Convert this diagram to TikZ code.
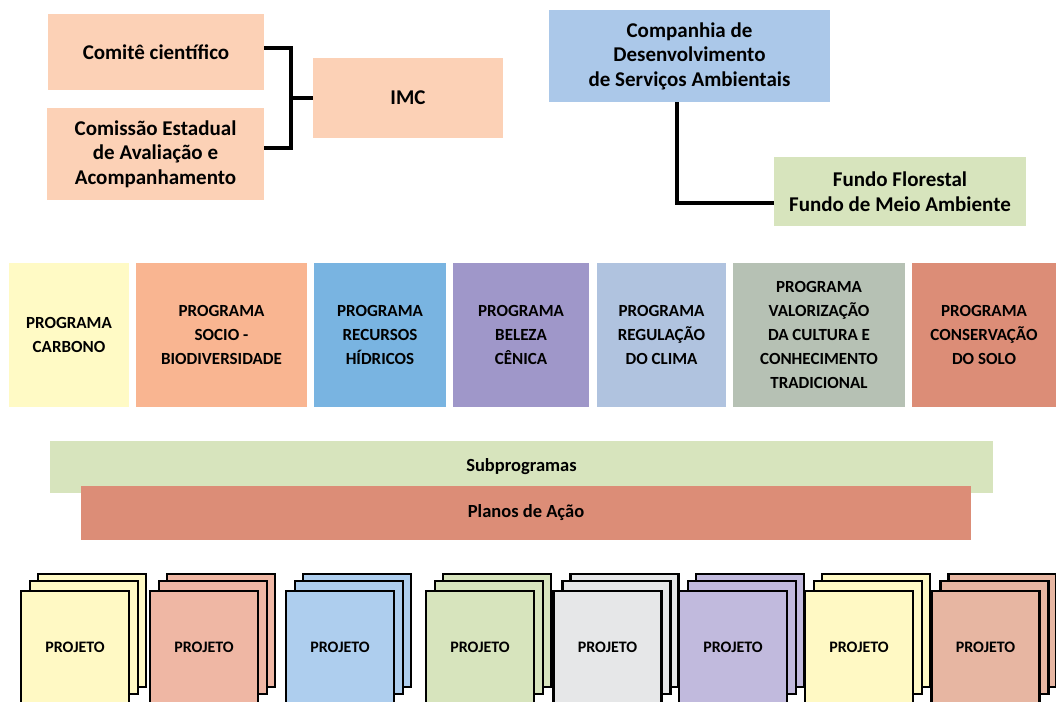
\documentclass[tikz,border=0pt]{standalone}
\usepackage{fontspec}
\setmainfont{Carlito}
\usepackage{xcolor}
\usepackage{tikz}
\definecolor{peach}{HTML}{FCD1B6}
\definecolor{cdsablue}{HTML}{ABC8E9}
\definecolor{fundogreen}{HTML}{D7E4BD}
\definecolor{progyellow}{HTML}{FFFAC5}
\definecolor{progorange}{HTML}{F9B591}
\definecolor{progblue}{HTML}{79B4E1}
\definecolor{progviolet}{HTML}{9F97C9}
\definecolor{progsky}{HTML}{B0C3DF}
\definecolor{progsage}{HTML}{B6C1B4}
\definecolor{progred}{HTML}{DC8D77}
\definecolor{projyellow}{HTML}{FFF9C4}
\definecolor{projsalmon}{HTML}{EFB7A4}
\definecolor{projblue}{HTML}{AECEEE}
\definecolor{projgreen}{HTML}{D7E4BD}
\definecolor{projgray}{HTML}{E6E7E8}
\definecolor{projlilac}{HTML}{C1BADD}
\definecolor{projrose}{HTML}{E7B6A2}
\newcommand{\topfont}{\fontsize{21}{24.5}\selectfont\bfseries}
\newcommand{\progfont}{\fontsize{17}{24}\selectfont\bfseries}
\newcommand{\barfont}{\fontsize{18.5}{22}\selectfont\bfseries}
\tikzset{
  box/.style={inner sep=0pt,align=center},
  link/.style={draw=black,line width=4.8pt},
  sheet/.style={draw=black,line width=2.6pt,fill=#1,minimum width=108pt,minimum height=113pt,inner sep=0pt}
}

\begin{document}
\begin{tikzpicture}[x=1pt,y=-1pt]
\useasboundingbox (0,0) rectangle (1056,701);
\node[box,fill=peach,minimum width=216pt,minimum height=76pt,font=\topfont] (comite) at (156,52) {Comitê científico};
\node[box,fill=peach,minimum width=217pt,minimum height=92pt,font=\topfont] (comissao) at (155.5,154) {Comissão Estadual\\de Avaliação e\\Acompanhamento};
\node[box,fill=peach,minimum width=190pt,minimum height=80pt,font=\topfont] (imc) at (408,98) {IMC};
\coordinate (join) at (291,98);
\draw[link] ([yshift=4pt]comite.east) -| (join) |- ([yshift=6pt]comissao.east);
\draw[link] (join) -- (imc.west);

\node[box,fill=cdsablue,minimum width=281pt,minimum height=92pt,font=\topfont] (cdsa) at (689.5,56) {Companhia de\\Desenvolvimento\\de Serviços Ambientais};
\node[box,fill=fundogreen,minimum width=252pt,minimum height=69pt,font=\topfont] (fundo) at (900,191.5) {Fundo Florestal\\Fundo de Meio Ambiente};
\coordinate (bend) at (677,203);
\draw[link] (cdsa.south -| bend) -- (bend) -- (bend -| fundo.west);

\foreach \cx/\w/\col/\txt [count=\i] in {69/120/progyellow/{PROGRAMA\\CARBONO},
  221.5/171/progorange/{PROGRAMA\\SOCIO -\\BIODIVERSIDADE},
  380/132/progblue/{PROGRAMA\\RECURSOS\\HÍDRICOS},
  521/136/progviolet/{PROGRAMA\\BELEZA\\CÊNICA},
  661.5/129/progsky/{PROGRAMA\\REGULAÇÃO\\DO CLIMA},
  819/172/progsage/{PROGRAMA\\VALORIZAÇÃO\\DA CULTURA E\\CONHECIMENTO\\TRADICIONAL},
  984/144/progred/{PROGRAMA\\CONSERVAÇÃO\\DO SOLO}} {
  \node[box,fill=\col,minimum width=\w pt,minimum height=144pt,font=\progfont] (prog\i) at (\cx,335) {\txt};
}

\node[box,fill=fundogreen,minimum width=943pt,minimum height=52pt,font=\barfont] (subprog) at (521.5,467) {Subprogramas};
\node[box,fill=progred,minimum width=890pt,minimum height=54pt,font=\barfont] (planos) at (526,513) {Planos de Ação};

\foreach \px/\pc [count=\i] in {75/projyellow,204/projsalmon,340/projblue,480/projgreen,
  607.5/projgray,733/projlilac,859/projyellow,985.5/projrose} {
  \node[sheet=\pc] (projc\i) at (\px+17,630.5) {};
  \node[sheet=\pc] (projb\i) at (\px+9,637.5) {};
  \node[sheet=\pc,font=\fontsize{16}{19}\selectfont\bfseries] (proj\i) at (\px,647.5) {PROJETO};
}
\end{tikzpicture}
\end{document}
